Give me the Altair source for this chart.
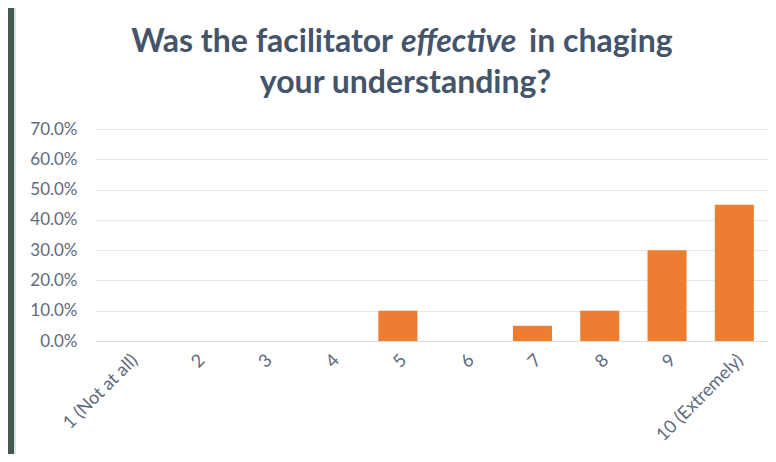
import altair as alt
import pandas as pd

categories = ["1 (Not at all)", "2", "3", "4", "5", "6", "7", "8", "9", "10 (Extremely)"]
values = [0.0, 0.0, 0.0, 0.0, 0.10, 0.0, 0.05, 0.10, 0.30, 0.45]
y_ticks = [0.0, 0.1, 0.2, 0.3, 0.4, 0.5, 0.6, 0.7]

title_part1 = "Was the facilitator"
title_part2 = "effective"
title_part3 = "in chaging"
title_line2 = "your understanding?"

TEXT = "#44546A"
AXIS_TXT = "#5E6A7D"
FONT = "Lato"

df = pd.DataFrame({"cat": categories, "val": values})

bars = alt.Chart(df).mark_bar(color="#ED7D31").encode(
    x=alt.X("cat:N", sort=categories,
            scale=alt.Scale(paddingInner=0.42, paddingOuter=0.21),
            axis=alt.Axis(title=None, labelAngle=-45, labelFontSize=18, labelFont=FONT,
                          labelColor=AXIS_TXT, ticks=False, labelPadding=10,
                          domainColor="#D9DDE1", grid=False)),
    y=alt.Y("val:Q", scale=alt.Scale(domain=[0, 0.7], nice=False),
            axis=alt.Axis(title=None, format=".1%", values=y_ticks, labelFontSize=17,
                          labelFont=FONT, labelColor=AXIS_TXT, ticks=False, domain=False,
                          labelPadding=18, gridColor="#E4E7EC", gridWidth=1)),
)

one = pd.DataFrame({"a": [0]})

frame = alt.Chart(one).mark_rect(color="#435B4E").encode(
    x=alt.value(-87), x2=alt.value(-81), y=alt.value(-121), y2=alt.value(325))
frame_edge = alt.Chart(one).mark_rect(color="#DCE0EA").encode(
    x=alt.value(-81), x2=alt.value(-79), y=alt.value(-121), y2=alt.value(325))

TS = 32
t1 = alt.Chart(one).mark_text(text=title_part1, font=FONT, fontSize=TS, fontWeight="bold",
                              color=TEXT, align="right", baseline="alphabetic").encode(
    x=alt.value(298), y=alt.value(-77))
t2 = alt.Chart(one).mark_text(text=title_part2, font=FONT, fontSize=TS, fontWeight="bold",
                              fontStyle="italic", color=TEXT, align="left",
                              baseline="alphabetic").encode(
    x=alt.value(306), y=alt.value(-77))
t3 = alt.Chart(one).mark_text(text=title_part3, font=FONT, fontSize=TS, fontWeight="bold",
                              color=TEXT, align="left", baseline="alphabetic").encode(
    x=alt.value(434), y=alt.value(-77))
t4 = alt.Chart(one).mark_text(text=title_line2, font=FONT, fontSize=TS, fontWeight="bold",
                              color=TEXT, align="center", baseline="alphabetic").encode(
    x=alt.value(310.5), y=alt.value(-36))

chart = alt.layer(frame, frame_edge, bars, t1, t2, t3, t4).properties(
    width=673, height=212,
    autosize=alt.AutoSizeParams(type="none"),
    padding={"left": 87, "top": 121, "right": 0, "bottom": 113},
    background="white",
).configure_view(stroke=None)

chart.save("out.html", embed_options={"renderer": "svg", "actions": False})
